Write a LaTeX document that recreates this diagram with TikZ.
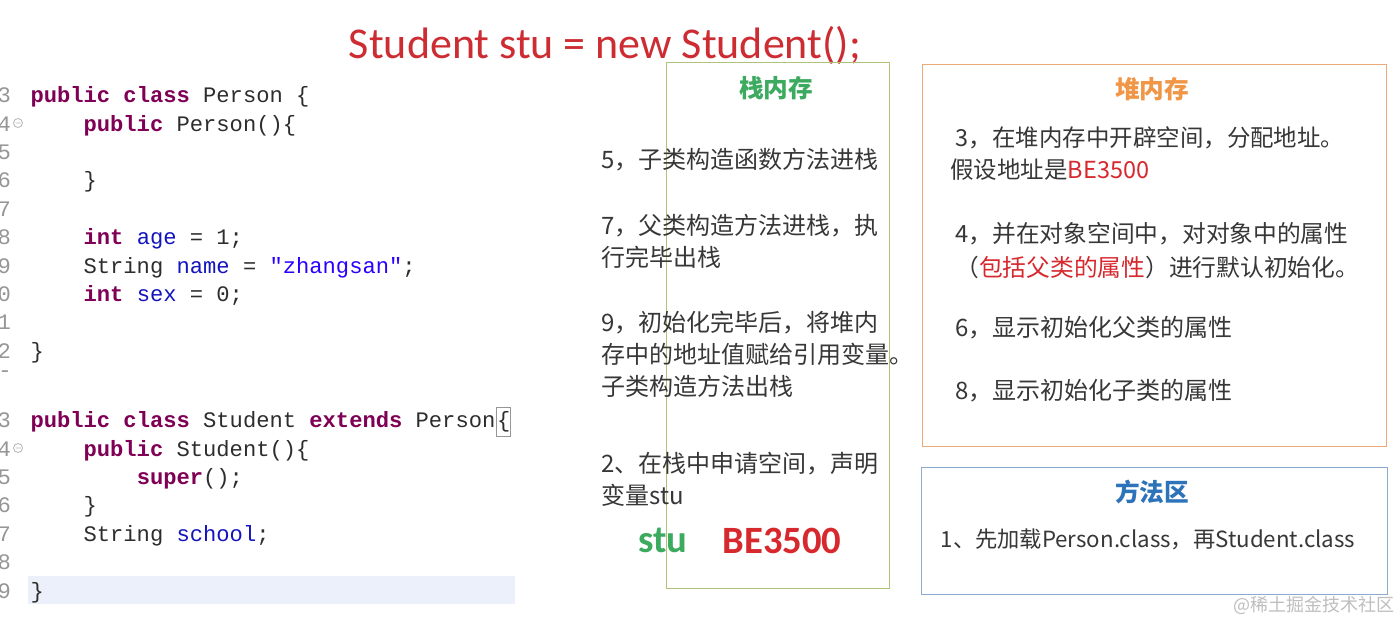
\documentclass[tikz,border=0pt]{standalone}
\usepackage{fontspec}
\setmainfont{Carlito}
\setmonofont{Liberation Mono}
\newfontfamily\cjk{Noto Sans CJK SC}

\definecolor{titlered}{RGB}{205,45,50}
\definecolor{addrred}{RGB}{215,40,45}
\definecolor{stugreen}{RGB}{60,170,95}
\definecolor{heaporange}{RGB}{240,150,70}
\definecolor{methblue}{RGB}{45,115,185}
\definecolor{txtgray}{RGB}{55,55,55}
\definecolor{codegray}{RGB}{45,45,45}
\definecolor{numgray}{RGB}{150,150,150}
\definecolor{kwcolor}{RGB}{127,0,85}
\definecolor{fldcolor}{RGB}{20,20,190}
\definecolor{strcolor}{RGB}{42,0,255}
\definecolor{hilite}{RGB}{236,240,250}
\definecolor{stackline}{RGB}{175,195,120}
\definecolor{heapline}{RGB}{235,170,120}
\definecolor{methline}{RGB}{140,170,205}
\definecolor{wmgray}{RGB}{190,190,190}

\newcommand{\jkw}[1]{\textcolor{kwcolor}{\bfseries #1}}
\newcommand{\jfld}[1]{\textcolor{fldcolor}{#1}}
\newcommand{\jstr}[1]{\textcolor{strcolor}{#1}}

\tikzset{every picture/.style={line width=0.75pt},
  code/.style={anchor=base west, inner sep=0pt, text=codegray, font=\ttfamily\fontsize{16.6}{20}\selectfont},
  lnum/.style={anchor=base west, inner sep=0pt, text=numgray, font=\ttfamily\fontsize{16.6}{20}\selectfont},
  cn/.style={anchor=west, align=left, inner sep=0pt, text=txtgray, font=\cjk\fontsize{18}{24}\selectfont},
  cnhead/.style={inner sep=0pt, font=\cjk\bfseries\fontsize{18.5}{22}\selectfont},
  big/.style={inner sep=0pt, font=\bfseries\fontsize{29}{32}\selectfont},
  fold/.style={draw=numgray!70, line width=0.6pt}
}

\begin{document}
\begin{tikzpicture}[x=0.75pt,y=0.75pt,yscale=-1,xscale=1]
\useasboundingbox[fill=white] (0,0) rectangle (1400,620);

% Title
\draw (605,45) node (title) [inner sep=0pt, text=titlered, font=\fontsize{33}{36}\selectfont] {Student stu = new Student();};

%Shape: Rectangle (current line highlight)
\fill [hilite] (28,576) rectangle (515,604);

% line numbers
\foreach \n [count=\i from 0] in {3,4,5,6,7,8,9,0,1,2}
  \draw (-3,96.7+28.4*\i+6) node (ln\i) [lnum] {\n};
\draw (-2,378) node (lncut) [lnum] {-};
\foreach \n [count=\i from 0] in {3,4,5,6,7,8,9}
  \draw (-3,421.7+28.4*\i+6) node (lm\i) [lnum] {\n};
%Shape: Circle (fold markers)
\draw [fold] (18,123) circle (4.5) (15.5,123) -- (20.5,123);
\draw [fold] (18,448) circle (4.5) (15.5,448) -- (20.5,448);

% Code: Person
\draw (30,102.7) node (c1) [code] {\jkw{public} \jkw{class} Person \{};
\draw (30,131.1) node (c2) [code] {\phantom{0000}\jkw{public} Person()\{};
\draw (30,187.9) node (c3) [code] {\phantom{0000}\}};
\draw (30,244.7) node (c4) [code] {\phantom{0000}\jkw{int} \jfld{age} = 1;};
\draw (30,273.1) node (c5) [code] {\phantom{0000}String \jfld{name} = \jstr{"zhangsan"};};
\draw (30,301.5) node (c6) [code] {\phantom{0000}\jkw{int} \jfld{sex} = 0;};
\draw (30,358.3) node (c7) [code] {\}};

% Code: Student
\draw (30,427.7) node (d1) [code] {\jkw{public} \jkw{class} Student \jkw{extends} Person};
\draw (d1.base east) node (brc) [code, draw=numgray, inner xsep=0.5pt, inner ysep=3pt] {\{};
\draw (30,456.1) node (d2) [code] {\phantom{0000}\jkw{public} Student()\{};
\draw (30,484.5) node (d3) [code] {\phantom{00000000}\jkw{super}();};
\draw (30,512.9) node (d4) [code] {\phantom{0000}\}};
\draw (30,541.3) node (d5) [code] {\phantom{0000}String \jfld{school};};
\draw (30,598.1) node (d6) [code] {\}};

%Shape: Rectangle [stack]
\draw [stackline] (666,63) rectangle (889,588);
%Shape: Rectangle [heap]
\draw [heapline] (922,65) rectangle (1386,446);
%Shape: Rectangle [method area]
\draw [methline] (921,467) rectangle (1387,594);

% Stack text
\draw (776,88) node (sthead) [cnhead, text=stugreen] {栈内存};
\draw (601,160) node (s5) [cn] {5，子类构造函数方法进栈};
\draw (601,241.5) node (s7) [cn] {7，父类构造方法进栈，执\\行完毕出栈};
\draw (601,354) node (s9) [cn] {9，初始化完毕后，将堆内\\存中的地址值赋给引用变量。\\子类构造方法出栈};
\draw (601,479) node (s2) [cn] {2、在栈中申请空间，声明\\变量stu};
\draw (663,540) node (stu) [big, text=stugreen] {stu};
\draw (782,541) node (addr) [big, text=addrred] {BE3500};

% Heap text
\draw (1152,89) node (hphead) [cnhead, text=heaporange] {堆内存};
\draw (950,154) node (h3) [cn, font=\cjk\fontsize{17.6}{24}\selectfont] {\hspace{4pt}3，在堆内存中开辟空间，分配地址。\\假设地址是\textcolor{addrred}{BE3500}};
\draw (955,251) node (h4) [cn, font=\cjk\fontsize{17.8}{25.5}\selectfont] {4，并在对象空间中，对对象中的属性\\（\textcolor{addrred}{包括父类的属性}）进行默认初始化。};
\draw (955,328) node (h6) [cn] {6，显示初始化父类的属性};
\draw (955,391) node (h8) [cn] {8，显示初始化子类的属性};

% Method area text
\draw (1152,492) node (mhead) [cnhead, text=methblue] {方法区};
\draw (1148,539) node (m1) [inner sep=0pt, text=txtgray, font=\cjk\fontsize{16.7}{20}\selectfont] {1、先加载Person.class，再Student.class};

% watermark
\draw (1314,605) node (wm) [inner sep=0pt, text=wmgray, font=\cjk\fontsize{13.5}{15}\selectfont] {@稀土掘金技术社区};

\end{tikzpicture}
\end{document}
